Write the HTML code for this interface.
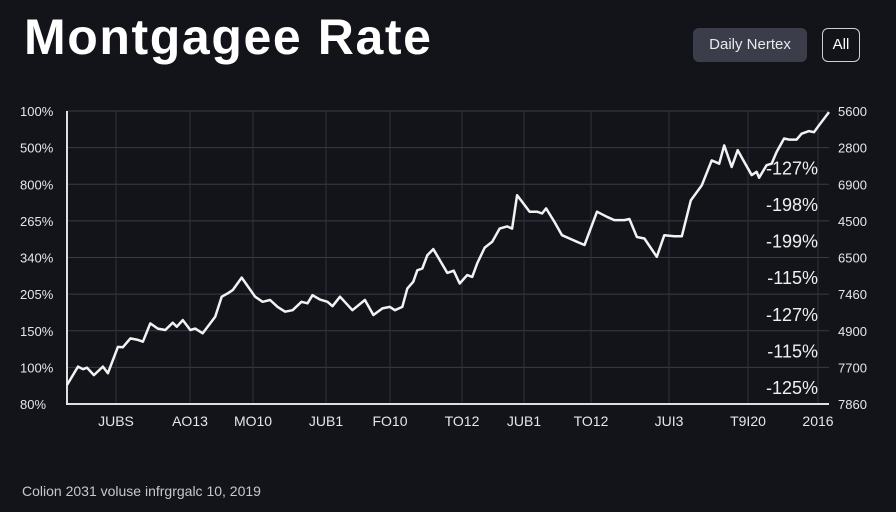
<!DOCTYPE html>
<html><head><meta charset="utf-8"><style>
body{margin:0;width:896px;height:512px;background:#13131a;overflow:hidden;font-family:"Liberation Sans",sans-serif;color:#fff}
.t{position:absolute;left:24px;top:8px;font-size:50px;font-weight:bold;letter-spacing:1.6px}
.b1{position:absolute;left:693px;top:28px;width:114px;height:34px;background:#3b3e4a;border-radius:6px;font-size:15px;line-height:34px;text-align:center;color:#e8e8ee}
.b2{position:absolute;left:822px;top:28px;width:36px;height:32px;border:1px solid #cfd0d6;border-radius:6px;font-size:15px;line-height:32px;text-align:center}
.f{position:absolute;left:22px;top:483px;font-size:14px;color:#c8c8cc}
</style></head><body>
<div class="t">Montgagee Rate</div>
<div class="b1">Daily Nertex</div>
<div class="b2">All</div>
<svg id="c" width="896" height="512" style="position:absolute;left:0;top:0"></svg>
<div class="f">Colion 2031 volusе infrgrgalc 10, 2019</div>
<script>
const leftTicks=["80%","100%","150%","205%","340%","265%","800%","500%","100%"];
const rightTicks=["7860","7700","4900","7460","6500","4500","6900","2800","5600"];
const innerLabels=["-125%","-115%","-127%","-115%","-199%","-198%","-127%"];
const xLabels=["JUBS","AO13","MO10","JUB1","FO10","TO12","JUB1","TO12","JUI3","T9I20","2016"];
const xLabelPos=[103,177,240,313,377,449,511,578,656,735,805];
const days=[18,40,50,58,72,90,100,120,130,145,160,170,185,200,215,230,238,250,265,275,290,315,328,340,350,368,395,410,425,440,455,470,488,500,510,525,540,550,565,590,615,632,650,665,675,690,700,712,720,730,740,752,765,780,793,805,820,830,840,855,870,885,900,910,920,930,945,960,970,978,995,1010,1025,1040,1055,1080,1100,1115,1135,1145,1160,1175,1200,1215,1235,1250,1268,1290,1310,1325,1335,1350,1362,1375,1390,1400,1405,1420,1430,1440,1455,1465,1480,1490,1505,1515,1525,1545];
const rates=[0.52,1.02,0.95,0.99,0.79,1.02,0.84,1.56,1.55,1.79,1.75,1.70,2.20,2.06,2.02,2.22,2.11,2.29,2.02,2.06,1.93,2.38,2.93,3.02,3.11,3.45,2.93,2.79,2.84,2.65,2.52,2.56,2.79,2.75,2.97,2.85,2.79,2.67,2.93,2.56,2.84,2.43,2.61,2.65,2.56,2.65,3.15,3.34,3.65,3.70,4.06,4.23,3.93,3.58,3.64,3.29,3.52,3.47,3.84,4.27,4.43,4.79,4.85,4.79,5.70,5.52,5.25,5.25,5.20,5.34,4.97,4.61,4.52,4.43,4.34,5.25,5.11,5.02,5.02,5.05,4.56,4.52,4.02,4.61,4.58,4.58,5.56,5.97,6.65,6.56,7.06,6.47,6.93,6.61,6.25,6.34,6.18,6.52,6.56,6.88,7.25,7.22,7.22,7.38,7.45,7.42,7.61,7.97];
const L=67,R=829,T=111,B=404;
const xs=d=>L+(d-18)/(1545-18)*(R-L);
const ys=v=>B-v*(B-T)/8;
const svg=document.getElementById('c');
const NS="http://www.w3.org/2000/svg";
function mk(tag,a){const e=document.createElementNS(NS,tag);for(const k in a)e.setAttribute(k,a[k]);svg.appendChild(e);return e;}
for(let i=0;i<=8;i++){const l=mk('line',{x1:L,x2:R,y1:ys(i),y2:ys(i),stroke:'#3a3b44','stroke-width':1});


const a=mk('text',{x:20,y:ys(i)+5,fill:'#e6e6ea','font-size':13});a.textContent=leftTicks[i];


const b=mk('text',{x:838,y:ys(i)+5,fill:'#e6e6ea','font-size':13});b.textContent=rightTicks[i];

}
xLabelPos.forEach((p,i)=>{const g=mk('line',{x1:p+13,x2:p+13,y1:T,y2:B,stroke:'#30313a','stroke-width':1});


const t=mk('text',{x:p+13,y:426,fill:'#e6e6ea','font-size':14,'text-anchor':'middle'});t.textContent=xLabels[i];

});
const ax=mk('path',{d:`M${L} ${T}V${B}H${R}`,stroke:'#e0e0e4','stroke-width':2,fill:'none'});


innerLabels.forEach((s,i)=>{const t=mk('text',{x:818,y:ys(i)-10,fill:'#f0f0f0','font-size':18,'text-anchor':'end'});t.textContent=s;

});
const p=mk('path',{d:days.map((d,i)=>(i?'L':'M')+xs(d).toFixed(1)+' '+ys(rates[i]).toFixed(1)).join(''),stroke:'#f2f2f2','stroke-width':2.5,fill:'none','stroke-linejoin':'round'});


</script>
</body></html>
